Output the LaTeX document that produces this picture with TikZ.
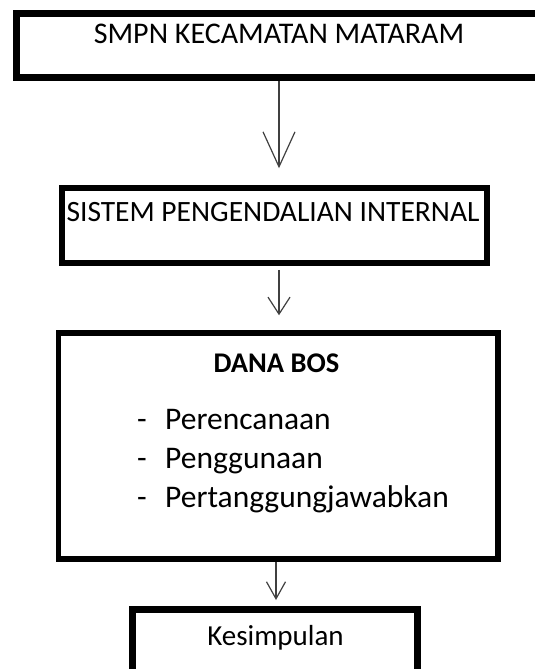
\documentclass[tikz,border=0pt]{standalone}
\usepackage{fontspec}
\setmainfont{Carlito}
\usetikzlibrary{arrows.meta}
\tikzstyle{box}=[draw, line width=5.5pt, inner sep=0pt]
\tikzstyle{heavy box}=[box, line width=7pt]
\tikzstyle{caption}=[inner sep=0pt, anchor=base, font=\fontsize{29.5}{35}\selectfont]
\tikzstyle{item}=[inner sep=0pt, anchor=base west, font=\fontsize{31.5}{39}\selectfont]
\tikzstyle{flow}=[draw=black!75, line width=1.2pt]

\begin{document}
\begin{tikzpicture}[x=1pt, y=-1pt]
      \useasboundingbox (0,0) rectangle (535,669);
      \clip (0,0) rectangle (535,669);
      % boxes
      \node[heavy box, minimum width=529pt, minimum height=63pt] (smpn) at (280.5, 45.5) {};
      \node[box, minimum width=425pt, minimum height=75pt] (sistem) at (274.5, 225.5) {};
      \node[box, minimum width=439.5pt, minimum height=226pt] (dana) at (278.25, 446) {};
      \node[heavy box, minimum width=285.5pt, minimum height=91pt] (kes) at (274.75, 654.5) {};
      % texts
      \node[caption, font=\fontsize{30}{36}\selectfont] (smpn text) at (279, 44) {SMPN KECAMATAN MATARAM};
      \node[caption] (sistem text) at (273, 221) {SISTEM PENGENDALIAN INTERNAL};
      \node[caption, font=\fontsize{28.5}{34}\selectfont\bfseries] (dana text) at (276.5, 372) {DANA BOS};
      \node[item] (plan) at (137, 429) {\makebox[28pt][l]{-}Perencanaan};
      \node[item] (use) at (137, 468) {\makebox[28pt][l]{-}Penggunaan};
      \node[item] (report) at (137, 507) {\makebox[28pt][l]{-}Pertanggungjawabkan};
      \node[caption, font=\fontsize{29}{35}\selectfont] (kes text) at (275.5, 645) {Kesimpulan};
      % arrows
      \draw[flow, -{Straight Barb[length=35pt, width=32pt]}, shorten >=17pt]
        ([xshift=-1.5pt]smpn.south) -- ([xshift=4.5pt]sistem.north);
      \draw[flow, -{Straight Barb[length=17pt, width=22pt]}, shorten <=4pt, shorten >=15pt]
        ([xshift=4.5pt]sistem.south) -- ([xshift=0.75pt]dana.north);
      \draw[flow, -{Straight Barb[length=17pt, width=19pt]}, shorten >=5.5pt]
        ([xshift=-2.25pt]dana.south) -- ([xshift=1.25pt]kes.north);
\end{tikzpicture}
\end{document}
